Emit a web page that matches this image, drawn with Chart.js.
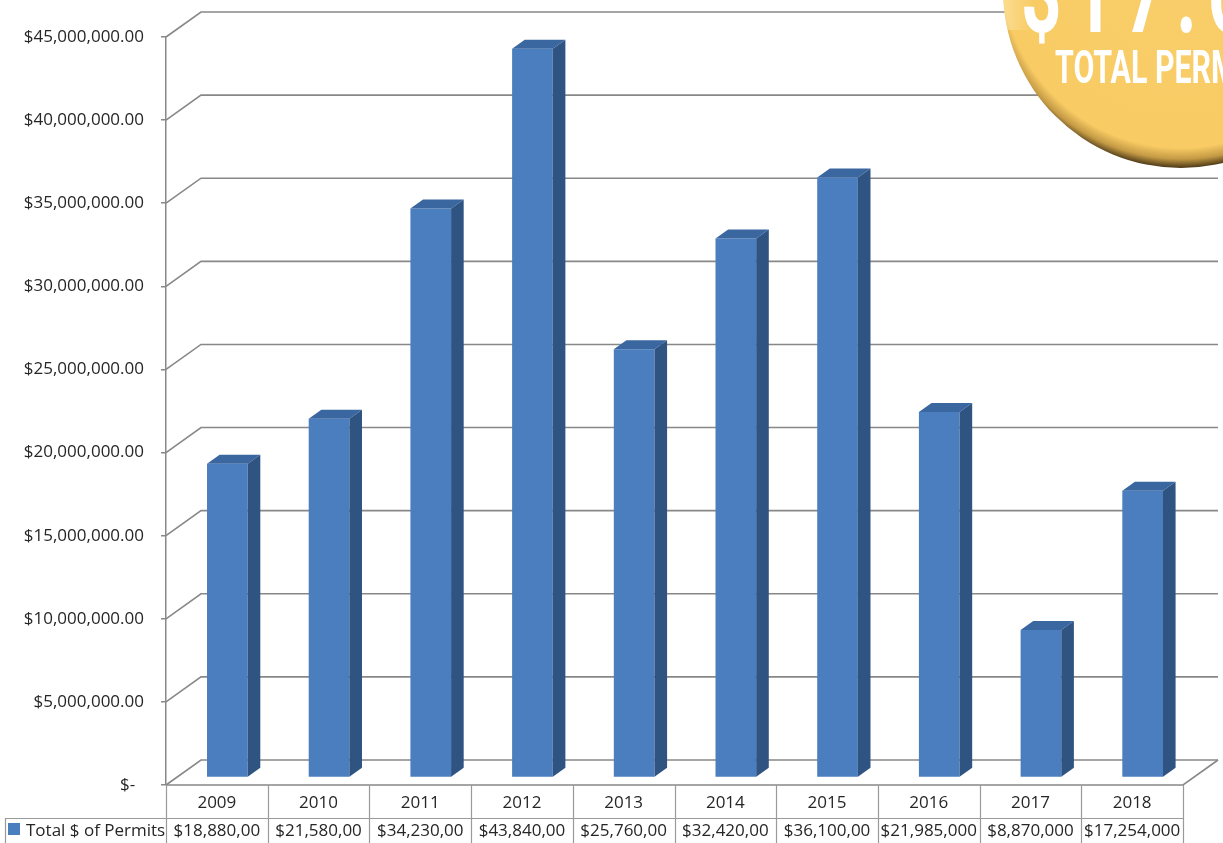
<!DOCTYPE html>
<html><head><meta charset="utf-8">
<script src="https://cdn.jsdelivr.net/npm/chart.js@4.4.1/dist/chart.umd.min.js"></script>
<style>html,body{margin:0;padding:0;background:#fff;overflow:hidden}canvas{display:block}</style>
</head><body>
<canvas id="c" width="1223" height="843"></canvas>
<script>
const years = ['2009','2010','2011','2012','2013','2014','2015','2016','2017','2018'];
const permitValues = [18880000, 21580000, 34230000, 43840000, 25760000, 32420000, 36100000, 21985000, 8870000, 17254000];
const tableText = ['$18,880,00','$21,580,00','$34,230,00','$43,840,00','$25,760,00','$32,420,00','$36,100,00','$21,985,000','$8,870,000','$17,254,000'];
const seriesName = 'Total $ of Permits';
const yTicks = [0, 5000000, 10000000, 15000000, 20000000, 25000000, 30000000, 35000000, 40000000, 45000000];
const badgeTitle = '$17.6M';
const badgeSubtitle = 'TOTAL PERMITS';

const DX = 35, DY = 25, FRONT = 0.3, BACK = 0.66;
const COL_FRONT = '#4A7EBE', COL_TOP = '#3B67A1', COL_SIDE = '#2F5482';
const GRID = '#888888', TEXT = '#262626';

function fmtTick(v){
  if (v === 0) return '$-  ';
  return '$' + v.toLocaleString('en-US',{minimumFractionDigits:2, maximumFractionDigits:2});
}

const plugin3d = {
  id: 'threeD',
  beforeDatasetsDraw(chart){
    const {ctx, chartArea:a, scales:{y}} = chart;
    ctx.save();
    ctx.strokeStyle = GRID; ctx.lineWidth = 1.6;
    y.ticks.forEach(t => {
      const py = y.getPixelForValue(t.value);
      ctx.beginPath(); ctx.moveTo(a.left, py); ctx.lineTo(a.left+DX, py-DY); ctx.lineTo(a.right+DX, py-DY); ctx.stroke();
    });
    const p0 = y.getPixelForValue(0);
    ctx.beginPath(); ctx.moveTo(a.left, p0); ctx.lineTo(a.right, p0); ctx.lineTo(a.right+DX, p0-DY); ctx.stroke();
    ctx.restore();
    ctx.save();
    ctx.translate(DX*FRONT, -DY*FRONT);
  },
  afterDatasetsDraw(chart){
    const ctx = chart.ctx;
    const meta = chart.getDatasetMeta(0);
    const ox = DX*(BACK-FRONT), oy = DY*(BACK-FRONT);
    meta.data.forEach(bar => {
      const {x, y, width, base} = bar.getProps(['x','y','width','base'], true);
      const l = x - width/2, r = x + width/2;
      ctx.fillStyle = COL_TOP;
      ctx.beginPath(); ctx.moveTo(l,y); ctx.lineTo(l+ox,y-oy); ctx.lineTo(r+ox,y-oy); ctx.lineTo(r,y); ctx.closePath(); ctx.fill();
      ctx.fillStyle = COL_SIDE;
      ctx.beginPath(); ctx.moveTo(r,y); ctx.lineTo(r+ox,y-oy); ctx.lineTo(r+ox,base-oy); ctx.lineTo(r,base); ctx.closePath(); ctx.fill();
    });
    ctx.restore();
  },
  afterDraw(chart){
    const {ctx, chartArea:a, scales:{x, y}} = chart;
    const p0 = y.getPixelForValue(0);
    const n = years.length, colW = (a.right-a.left)/n;
    const rowY = 818;
    ctx.save();
    ctx.strokeStyle = '#9a9a9a'; ctx.lineWidth = 1.2;
    ctx.beginPath();
    for (let i=0;i<=n;i++){ const px = Math.round(a.left + i*colW)+0.5; ctx.moveTo(px, p0); ctx.lineTo(px, 843); }
    ctx.moveTo(5, rowY+0.5); ctx.lineTo(a.right, rowY+0.5);
    ctx.moveTo(5.5, rowY); ctx.lineTo(5.5, 843);
    ctx.stroke();
    ctx.fillStyle = TEXT; ctx.font = '17px "Open Sans"'; ctx.textBaseline = 'middle'; ctx.textAlign = 'center';
    years.forEach((yr,i) => {
      const cx = x.getPixelForValue(i);
      ctx.fillText(yr, cx, 803);
      ctx.fillText(tableText[i], cx, 831);
    });
    ctx.fillStyle = COL_FRONT; ctx.fillRect(8, 823, 12, 12);
    ctx.fillStyle = TEXT; ctx.textAlign = 'left';
    ctx.fillText(seriesName, 26, 831);
    ctx.restore();

    // badge
    const cx = 1181, cy = -10, r = 178;
    ctx.save();
    ctx.beginPath(); ctx.arc(cx, cy, r, 0, Math.PI*2); ctx.clip();
    const g = ctx.createRadialGradient(cx, cy-22, 0, cx, cy-22, r+22);
    g.addColorStop(0, '#F9CE6A'); g.addColorStop(0.9, '#F8CB64'); g.addColorStop(0.955, '#C49A45'); g.addColorStop(1, '#4A3716');
    ctx.fillStyle = g; ctx.fillRect(cx-r, cy-r, 2*r, 2*r);
    const lg = ctx.createLinearGradient(cx-r, 0, cx-r+30, 0);
    lg.addColorStop(0, 'rgba(255,235,180,0.55)'); lg.addColorStop(1, 'rgba(255,235,180,0)');
    ctx.fillStyle = lg; ctx.fillRect(cx-r, cy-r, 40, r+40);
    ctx.fillStyle = '#ffffff';
    ctx.textAlign = 'left'; ctx.textBaseline = 'alphabetic';
    ctx.save(); ctx.translate(1055, 83); ctx.scale(0.66, 1); ctx.font = 'bold 46px Roboto'; ctx.fillText(badgeSubtitle, 0, 0); ctx.restore();
    ctx.save(); ctx.translate(1021, 32); ctx.scale(0.62, 1); ctx.font = 'bold 114px Roboto'; ctx.letterSpacing = '18px'; ctx.fillText(badgeTitle, 0, 0); ctx.restore();
    ctx.restore();
  }
};

Chart.defaults.font.family = '"Open Sans", sans-serif';
new Chart(document.getElementById('c'), {
  type: 'bar',
  data: {
    labels: years,
    datasets: [{
      label: seriesName,
      data: permitValues,
      backgroundColor: COL_FRONT,
      borderWidth: 0,
      barPercentage: 0.4,
      categoryPercentage: 1,
      clip: false
    }]
  },
  options: {
    responsive: false,
    animation: false,
    devicePixelRatio: 1,
    layout: { padding: { top: 37, bottom: 58, left: 0, right: 40 } },
    plugins: { legend: { display: false }, tooltip: { enabled: false }, title: { display: false } },
    scales: {
      x: { display: false, offset: true },
      y: {
        min: 0, max: 45000000,
        afterBuildTicks: s => { s.ticks = yTicks.map(v => ({value: v})); },
        afterFit: s => { s.width = 166; },
        ticks: { callback: v => fmtTick(v), color: TEXT, font: { size: 17 }, padding: 17 },
        grid: { drawOnChartArea: false, color: GRID, lineWidth: 1.5, tickLength: 5 },
        border: { display: true, color: GRID, width: 1.5 }
      }
    }
  },
  plugins: [plugin3d]
});
</script>
</body></html>
